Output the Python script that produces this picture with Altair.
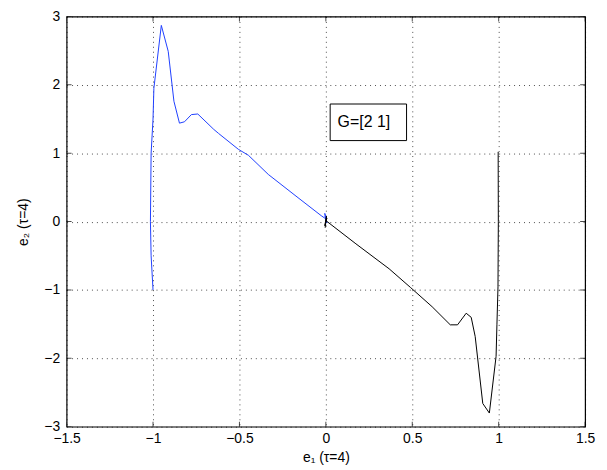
import altair as alt
import pandas as pd

# Blue trajectory (e1, e2)
blue_x = [-1.000, -1.011, -1.015, -1.011, -1.000, -0.995, -0.952, -0.912, -0.879,
          -0.847, -0.818, -0.778, -0.741, -0.649, -0.621, -0.506, -0.448, -0.333,
          -0.161, -0.027, 0.000, -0.006, 0.006, -0.004, 0.002]
blue_y = [-1.00, -0.50, 0.00, 1.00, 1.50, 1.95, 2.87, 2.49, 1.76,
          1.44, 1.46, 1.565, 1.574, 1.35, 1.29, 1.057, 0.97, 0.69,
          0.35, 0.087, 0.04, 0.12, -0.02, 0.08, 0.03]

# Black trajectory (e1, e2)
black_x = [-0.004, 0.004, -0.006, 0.006, 0.000, 0.174, 0.366, 0.490, 0.615,
           0.720, 0.762, 0.812, 0.841, 0.864, 0.908, 0.946, 0.985, 0.990,
           0.996, 0.998, 0.997]
black_y = [-0.09, 0.08, -0.06, 0.05, 0.015, -0.325, -0.69, -0.964, -1.245,
           -1.51, -1.51, -1.34, -1.40, -1.68, -2.66, -2.80, -1.97, -1.50,
           -0.955, 0.00, 1.02]

x_ticks = [-1.5, -1, -0.5, 0, 0.5, 1, 1.5]
y_ticks = [-3, -2, -1, 0, 1, 2, 3]

# annotation
note_text = ["G=[2 1]"]
note_box_x = [0.025, 0.467]
note_box_y = [1.185, 1.72]
note_pos = [0.22, 1.46]

rows = []
for i, (a, b) in enumerate(zip(blue_x, blue_y)):
    rows.append({"e1": a, "e2": b, "series": "blue", "i": i})
for i, (a, b) in enumerate(zip(black_x, black_y)):
    rows.append({"e1": a, "e2": b, "series": "black", "i": i})
df = pd.DataFrame(rows)

FONT = "Liberation Sans"
xs = alt.Scale(domain=[-1.5, 1.5], nice=False, zero=False)
ys = alt.Scale(domain=[-3, 3], nice=False, zero=False)

xaxis = alt.Axis(values=x_ticks, title="e\u2081 (\u03c4=4)", grid=True, gridColor="#000",
                 gridDash=[1, 4], gridOpacity=0.7, tickSize=0, domain=False,
                 labelPadding=5, labelFontSize=14, titleFontSize=14, titleFontWeight="normal",
                 labelFont=FONT, titleFont=FONT, labelColor="#000", titleColor="#000",
                 titlePadding=5, format="~g", labelFlush=False, labelOverlap=False)
yaxis = alt.Axis(values=y_ticks, title="e\u2082 (\u03c4=4)", grid=True, gridColor="#000",
                 gridDash=[1, 4], gridOpacity=0.7, tickSize=0, domain=False,
                 labelPadding=7, labelFontSize=14, titleFontSize=14, titleFontWeight="normal",
                 labelFont=FONT, titleFont=FONT, labelColor="#000", titleColor="#000",
                 titlePadding=13, format="~g", labelFlush=False, labelOverlap=False)

lines = alt.Chart(df).mark_line(strokeWidth=1, clip=True).encode(
    x=alt.X("e1:Q", scale=xs, axis=xaxis),
    y=alt.Y("e2:Q", scale=ys, axis=yaxis),
    color=alt.Color("series:N", scale=alt.Scale(domain=["blue", "black"], range=["#1f3fff", "#000000"]), legend=None),
    order="i:Q",
    detail="series:N",
)

# inward ticks
xt = pd.DataFrame({"v": x_ticks})
yt = pd.DataFrame({"v": y_ticks})
tick_bottom = alt.Chart(xt).mark_tick(orient="vertical", size=10, color="#000", thickness=1, clip=True).encode(
    x=alt.X("v:Q", scale=xs), y=alt.datum(-3, scale=ys))
tick_top = alt.Chart(xt).mark_tick(orient="vertical", size=10, color="#000", thickness=1, clip=True).encode(
    x=alt.X("v:Q", scale=xs), y=alt.datum(3, scale=ys))
tick_left = alt.Chart(yt).mark_tick(orient="horizontal", size=10, color="#000", thickness=1, clip=True).encode(
    y=alt.Y("v:Q", scale=ys), x=alt.datum(-1.5, scale=xs))
tick_right = alt.Chart(yt).mark_tick(orient="horizontal", size=10, color="#000", thickness=1, clip=True).encode(
    y=alt.Y("v:Q", scale=ys), x=alt.datum(1.5, scale=xs))

note_df = pd.DataFrame({"x": [note_box_x[0]], "x2": [note_box_x[1]], "y": [note_box_y[0]], "y2": [note_box_y[1]],
                        "tx": [note_pos[0]], "ty": [note_pos[1]], "t": note_text})
box = alt.Chart(note_df).mark_rect(fill="white", stroke="#000", strokeWidth=1).encode(
    x=alt.X("x:Q", scale=xs), x2="x2:Q", y=alt.Y("y:Q", scale=ys), y2="y2:Q")
txt = alt.Chart(note_df).mark_text(font=FONT, fontSize=16, color="#000", align="center", baseline="middle").encode(
    x=alt.X("tx:Q", scale=xs), y=alt.Y("ty:Q", scale=ys), text="t:N")

chart = alt.layer(lines, tick_bottom, tick_top, tick_left, tick_right, box, txt).properties(
    width=522, height=413,
    padding={"left": 59, "top": 7, "right": 14, "bottom": 38},
    autosize=alt.AutoSizeParams(type="none"),
    background="white",
).configure_view(stroke="#000", strokeWidth=1.2)

chart.save("out.html", embed_options={"renderer": "svg", "actions": False})
